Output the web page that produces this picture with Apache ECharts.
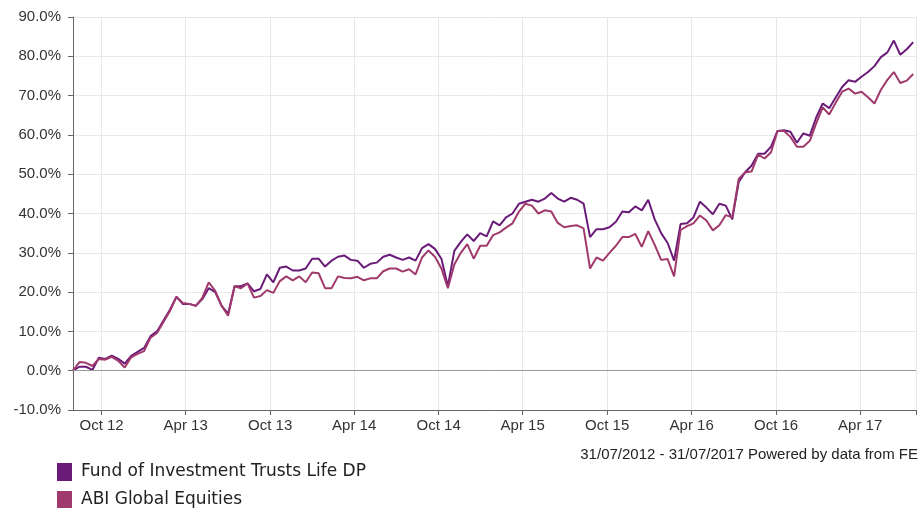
<!DOCTYPE html>
<html>
<head>
<meta charset="utf-8">
<script src="https://cdn.jsdelivr.net/npm/echarts@6/dist/echarts.min.js"></script>
<style>
  html, body { margin: 0; padding: 0; background: #fff; }
  #chart { width: 919px; height: 508px; }
</style>
</head>
<body>
<div id="chart"></div>
<script>
// sampling grid: one point every 14 days from 31/07/2012
const startDate = [2012, 6, 31];
const endDate = [2017, 6, 31];
const stepDays = 14;

// cumulative performance, %
const fund = [0, 1.0, 1.0, 0.2, 3.3, 3.0, 3.8, 3.0, 1.8, 3.8,
  4.8, 5.8, 8.8, 10, 12.8, 15.5, 18.8, 17, 17, 16.5,
  18.2, 21, 20, 16.5, 14.5, 21.5, 21.5, 22.2, 20.2, 20.8,
  24.5, 22.5, 26.2, 26.5, 25.5, 25.5, 26, 28.5, 28.5, 26.5,
  28, 29, 29.3, 28.2, 28, 26.2, 27.2, 27.5, 29, 29.5,
  28.8, 28.2, 28.8, 28, 31.2, 32.2, 31, 28.5, 21.5, 30.5,
  32.8, 34.7, 33, 35, 34.2, 38, 37, 39, 40, 42.5,
  43, 43.5, 43, 43.8, 45.2, 43.8, 43, 44, 43.5, 42.5,
  34, 36, 36, 36.5, 37.9, 40.5, 40.3, 41.8, 40.8, 43.5,
  38.5, 35, 32.5, 28, 37.3, 37.5, 39, 43, 41.5, 39.8,
  42.5, 42, 38.5, 48, 50.5, 52.2, 55.2, 55.2, 57, 61,
  61.2, 60.8, 58, 60.4, 59.8, 64.5, 68, 66.8, 69.5, 72.2,
  73.9, 73.5, 74.8, 76, 77.5, 79.8, 81, 84, 80.4, 81.8,
  83.6];

const abi = [0, 2.2, 2.0, 1.2, 3.0, 2.8, 3.5, 2.5, 0.8, 3.4,
  4.3, 5.0, 8.4, 9.6, 12.4, 15.2, 18.8, 17.2, 17, 16.5,
  18.5, 22.5, 20.3, 16.5, 14, 21.5, 21, 22.2, 18.6, 19,
  20.5, 19.8, 22.8, 24, 23, 24, 22.5, 25, 24.8, 21,
  21, 24, 23.6, 23.5, 23.9, 23, 23.5, 23.5, 25.3, 26,
  26, 25.2, 25.8, 24.5, 28.8, 30.6, 29, 26, 21, 27,
  30, 32.2, 28.5, 31.8, 31.8, 34.5, 35.2, 36.4, 37.5, 40.5,
  42.5, 42, 40, 40.8, 40.5, 37.6, 36.5, 36.8, 37, 36.2,
  26, 28.8, 28, 30, 31.8, 34, 34, 34.8, 31.5, 35.5,
  32, 28.2, 28.4, 24, 35.8, 36.8, 37.5, 39.5, 38.2, 35.7,
  37, 39.6, 39, 48.8, 50.5, 50.7, 55, 54, 55.6, 61,
  61, 59.5, 57, 57, 58.5, 63, 67, 65.2, 68.2, 71,
  71.8, 70.5, 71, 69.6, 68, 71.5, 74, 76, 73.2, 73.8,
  75.5];

const tickDates = ['2012-10-01', '2013-04-01', '2013-10-01', '2014-04-01', '2014-10-01',
  '2015-04-01', '2015-10-01', '2016-04-01', '2016-10-01', '2017-04-01'];
const tickLabels = ['Oct 12', 'Apr 13', 'Oct 13', 'Apr 14', 'Oct 14',
  'Apr 15', 'Oct 15', 'Apr 16', 'Oct 16', 'Apr 17'];

const seriesNames = ['Fund of Investment Trusts Life DP', 'ABI Global Equities'];
const colors = ['#6a1b78', '#a03a6c'];

function toTime(s) {
  const p = s.split('-').map(Number);
  return new Date(p[0], p[1] - 1, p[2]).getTime();
}
const minTime = new Date(startDate[0], startDate[1], startDate[2]).getTime();
const maxTime = new Date(endDate[0], endDate[1], endDate[2]).getTime();
const tickTimes = tickDates.map(toTime);

function pairs(values) {
  return values.map((v, i) => [
    new Date(startDate[0], startDate[1], startDate[2] + i * stepDays).getTime(), v
  ]);
}

const chart = echarts.init(document.getElementById('chart'));

const axisFont = { color: '#333', fontSize: 15, fontFamily: 'Liberation Sans, Arial, sans-serif' };

// one legend per row so they stack like the original
const legendRow = (name, top) => ({
  left: 57,
  top: top,
  padding: 0,
  icon: 'rect',
  itemWidth: 15,
  itemHeight: 18,
  textStyle: { fontSize: 17, color: '#222', fontFamily: 'DejaVu Sans, sans-serif', padding: [0, 0, 0, 4] },
  data: [name]
});

chart.setOption({
  animation: false,
  color: colors,
  grid: { left: 73, right: 3, top: 17, bottom: 98 },
  legend: [legendRow(seriesNames[0], 463), legendRow(seriesNames[1], 491)],
  graphic: [{
    type: 'text',
    right: 1,
    top: 447,
    style: {
      text: '31/07/2012 - 31/07/2017 Powered by data from FE',
      fill: '#222',
      font: '15px "Liberation Sans", Arial, sans-serif'
    }
  }],
  xAxis: {
    type: 'value',
    min: minTime,
    max: maxTime,
    axisLine: { onZero: false, lineStyle: { color: '#666' } },
    axisTick: { show: true, length: 5, customValues: tickTimes.concat([maxTime]), lineStyle: { color: '#666' } },
    axisLabel: Object.assign({
      customValues: tickTimes,
      margin: 8,
      formatter: function (value) {
        const k = tickTimes.indexOf(value);
        return k >= 0 ? tickLabels[k] : '';
      }
    }, axisFont),
    splitLine: { show: true, lineStyle: { color: '#e8e8e8' } }
  },
  yAxis: {
    type: 'value',
    min: -10,
    max: 90,
    interval: 10,
    axisLine: { show: true, lineStyle: { color: '#666' } },
    axisTick: { show: true, length: 5, lineStyle: { color: '#666' } },
    axisLabel: Object.assign({
      margin: 12,
      formatter: v => v.toFixed(1) + '%'
    }, axisFont),
    splitLine: { show: true, lineStyle: { color: '#e8e8e8' } }
  },
  series: [
    {
      name: seriesNames[0],
      type: 'line',
      data: pairs(fund),
      showSymbol: false,
      lineStyle: { width: 2, color: colors[0] },
      itemStyle: { color: colors[0] },
      markLine: {
        silent: true,
        symbol: 'none',
        label: { show: false },
        lineStyle: { color: '#999', type: 'solid', width: 1 },
        data: [{ yAxis: 0 }]
      }
    },
    {
      name: seriesNames[1],
      type: 'line',
      data: pairs(abi),
      showSymbol: false,
      lineStyle: { width: 2, color: colors[1] },
      itemStyle: { color: colors[1] }
    }
  ]
});
</script>
</body>
</html>
